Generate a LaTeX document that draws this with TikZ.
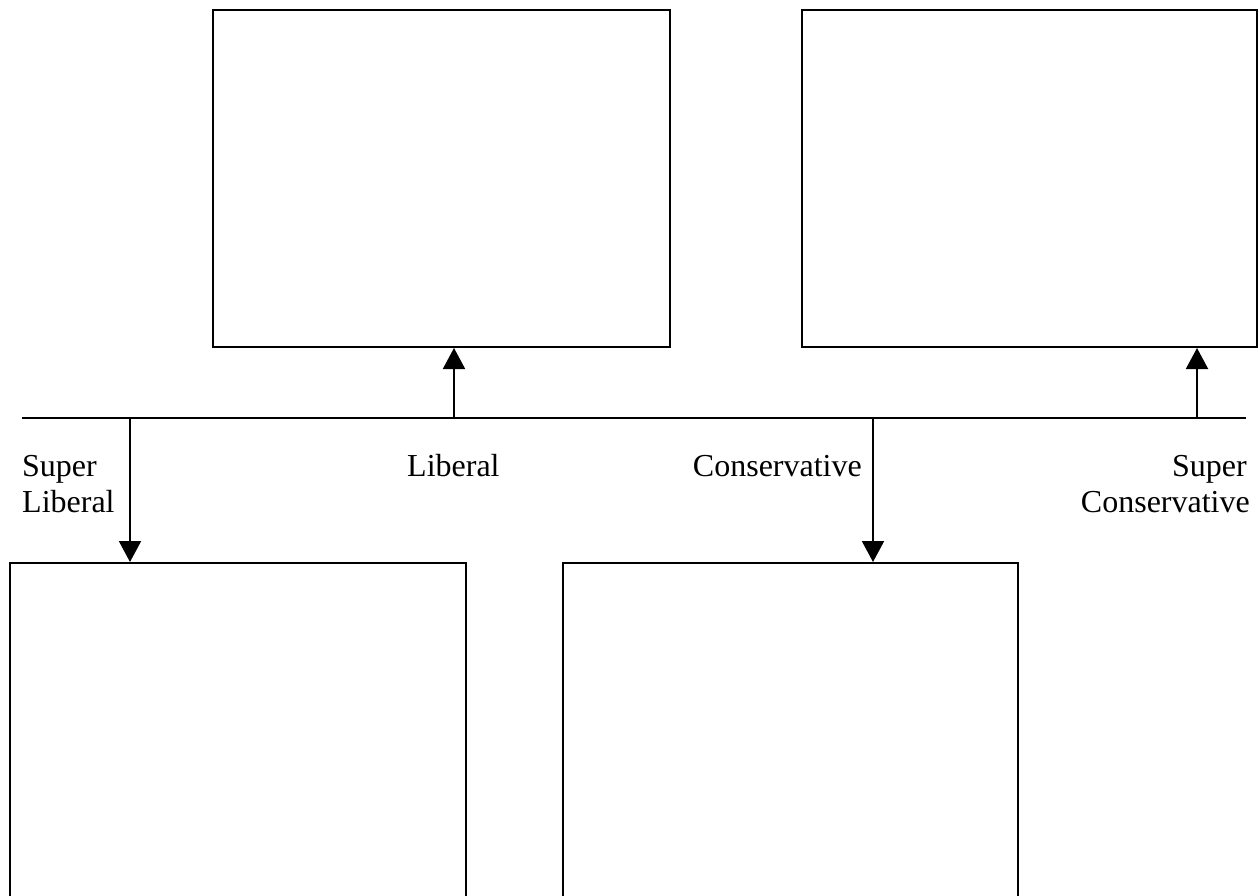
\documentclass[tikz,border=0pt]{standalone}
\usepackage{fontspec}
\setmainfont{Liberation Serif}
\usetikzlibrary{arrows.meta}
\begin{document}
\begin{tikzpicture}[x=1pt,y=-1pt,
  box/.style={draw,line width=2pt,inner sep=0pt,minimum width=#1},
  arr/.style={line width=2pt,-{Triangle[length=21pt,width=22pt]}},
  lab/.style={inner sep=0pt,font=\fontsize{32}{36}\selectfont}]
\useasboundingbox (0,0) rectangle (1259,896);
\fill[white] (0,0) rectangle (1259,896);
\node[box=457pt,minimum height=337pt] (tl) at (441.5,178.5) {};
\node[box=455pt,minimum height=337pt] (tr) at (1029.5,178.5) {};
\node[box=456pt,minimum height=367pt] (bl) at (238,746.5) {};
\node[box=455pt,minimum height=367pt] (bm) at (790.5,746.5) {};
\coordinate (L) at (22,418);
\coordinate (R) at (1246,418);
\draw[line width=2pt] (L) -- (R);
\coordinate (a1) at (454,418);
\coordinate (a2) at (1197,418);
\coordinate (d1) at (130,418);
\coordinate (d2) at (873,418);
\draw[arr] (a1) -- (a1 |- tl.south);
\draw[arr] (a2) -- (a2 |- tr.south);
\draw[arr] (d1) -- (d1 |- bl.north);
\draw[arr] (d2) -- (d2 |- bm.north);
\node[lab,anchor=base west] (sl1) at (22,476) {Super};
\node[lab,anchor=base west] (sl2) at (22,512) {Liberal};
\node[lab,anchor=base west] (lib) at (407,476) {Liberal};
\node[lab,anchor=base east] (con) at (862,476) {Conservative};
\node[lab,anchor=base east] (sc1) at (1247,476) {Super};
\node[lab,anchor=base east] (sc2) at (1250,512) {Conservative};
\end{tikzpicture}
\end{document}
